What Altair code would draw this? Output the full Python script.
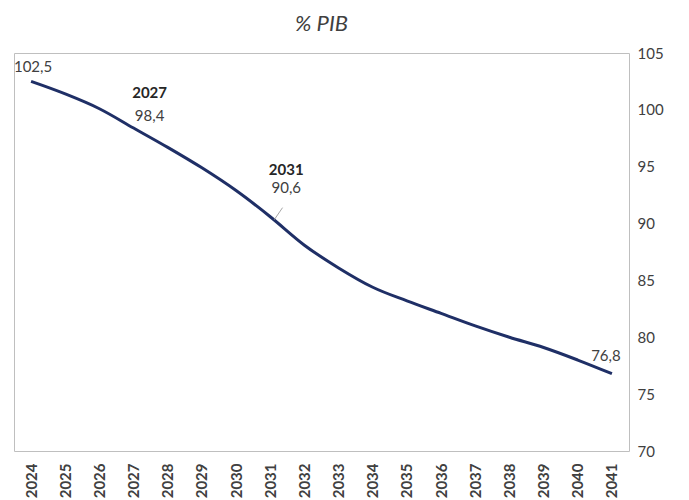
import altair as alt
import pandas as pd

years = list(range(2024, 2042))
values = [102.5, 101.4, 100.1, 98.4, 96.7, 94.9, 92.9, 90.6, 88.1, 86.1,
          84.4, 83.2, 82.1, 81.0, 80.0, 79.1, 78.0, 76.8]

# annotations
ann_years = [2024, 2027, 2027, 2031, 2031, 2041]
ann_text = ["102,5", "2027", "98,4", "2031", "90,6", "76,8"]
ann_bold = [False, True, False, True, False, False]
ann_dx = [2, 16, 16, 16, 16, -6]
ann_dy = [-14, -35, -12, -47, -29, -18]

lead_x = [2031.12]
lead_x2 = [2031.36]
lead_y = [90.35]
lead_y2 = [91.4]

df = pd.DataFrame({"year": years, "value": values})
val_map = dict(zip(years, values))
ann = pd.DataFrame({
    "year": ann_years,
    "value": [val_map[y] for y in ann_years],
    "label": ann_text,
})
lead = pd.DataFrame({"year": lead_x, "x2": lead_x2, "value": lead_y, "y2": lead_y2})

FONT = "Lato"
TXT = "#404040"

xscale = alt.Scale(domain=[2023.5, 2041.5], nice=False, zero=False)
yscale = alt.Scale(domain=[70, 105], nice=False, zero=False)

xaxis = alt.Axis(values=years, format="d", labelAngle=-90, labelFont=FONT,
                 labelFontSize=15, labelFontWeight="bold", labelColor=TXT,
                 domain=False, ticks=False, grid=False, title=None,
                 labelPadding=12, labelBaseline="middle", labelAlign="right",
                 labelFlush=False, labelOverlap=False, labelSeparation=0)
yaxis = alt.Axis(orient="right", values=[70, 75, 80, 85, 90, 95, 100, 105],
                 labelFont=FONT, labelFontSize=15, labelColor=TXT,
                 domain=False, ticks=False, grid=False, title=None,
                 labelPadding=8, labelFlush=False, labelOverlap=False)

X = alt.X("year:Q", scale=xscale, axis=xaxis)
Y = alt.Y("value:Q", scale=yscale, axis=yaxis)

line = alt.Chart(df).mark_line(color="#1F2F66", strokeWidth=3,
                               interpolate="monotone").encode(x=X, y=Y)

leader = alt.Chart(lead).mark_rule(color="#a6a6a6", strokeWidth=1).encode(
    x=X, x2="x2:Q", y=Y, y2="y2:Q",
)

texts = []
for i in range(len(ann)):
    row = ann.iloc[[i]]
    t = alt.Chart(row).mark_text(
        font=FONT, fontSize=15, color="#262626" if ann_bold[i] else TXT,
        fontWeight="bold" if ann_bold[i] else "normal",
        dx=int(ann_dx[i]), dy=int(ann_dy[i]), align="center", baseline="middle",
    ).encode(x=X, y=Y, text="label:N")
    texts.append(t)

chart = alt.layer(line, leader, *texts).properties(
    width=615, height=398,
    title=alt.TitleParams("% PIB", font=FONT, fontSize=22, fontStyle="italic",
                          fontWeight="normal", color=TXT, anchor="middle",
                          offset=10),
    padding={"left": 5, "top": 5, "right": 5, "bottom": 2},
).configure_view(stroke="#bfbfbf", strokeWidth=1)

chart.save("out.html", embed_options={"renderer": "svg", "actions": False})
